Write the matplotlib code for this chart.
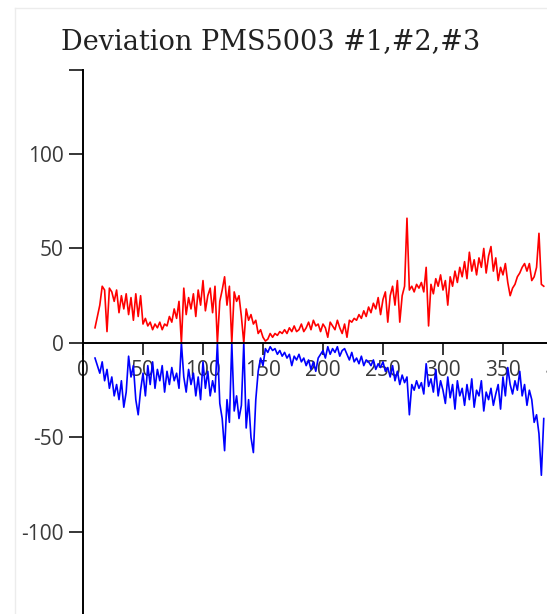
import numpy as np
import matplotlib.pyplot as plt
from matplotlib.lines import Line2D

# sample index of the first reading, readings every 2 steps
x_start = 10
x_step = 2

# deviation of sensor #1 vs #2 (red) and #1 vs #3 (blue)
red = [8, 14, 20, 30, 28,
       6, 29, 27, 22, 28,
       16, 25, 18, 26, 15,
       24, 12, 26, 14, 25,
       10, 13, 9, 11, 7,
       10, 8, 11, 7, 10,
       9, 14, 11, 18, 13,
       22, 0, 29, 15, 24,
       18, 26, 14, 28, 20,
       33, 17, 25, 29, 16,
       30, 0, 22, 28, 35,
       20, 30, 0, 27, 22,
       25, 14, 0, 18, 12,
       15, 10, 12, 5, 7,
       3, 1, 2, 5, 3,
       5, 4, 6, 5, 7,
       5, 8, 6, 9, 6,
       7, 10, 6, 8, 11,
       7, 12, 9, 10, 6,
       10, 8, 3, 11, 9,
       7, 12, 8, 5, 10,
       3, 12, 11, 13, 12,
       15, 13, 17, 14, 19,
       16, 21, 18, 24, 15,
       23, 27, 11, 25, 30,
       20, 33, 11, 25, 30,
       66, 28, 30, 27, 31,
       29, 32, 27, 40, 9,
       31, 26, 34, 30, 36,
       28, 33, 20, 35, 30,
       38, 32, 40, 35, 43,
       34, 48, 38, 44, 36,
       45, 40, 50, 37, 46,
       51, 38, 45, 33, 40,
       36, 42, 32, 25, 29,
       31, 35, 37, 40, 42,
       38, 42, 33, 35, 40,
       58, 31, 30]

blue = [-8, -12, -16, -10, -20,
        -14, -24, -18, -28, -22,
        -30, -20, -34, -26, -7,
        -18, -12, -30, -38, -25,
        -16, -28, -12, -22, -10,
        -24, -14, -20, -12, -26,
        -15, -22, -13, -20, -16,
        -24, 0, -18, -26, -14,
        -22, -16, -28, -18, -30,
        -10, -24, -15, -28, -20,
        -26, 0, -32, -40, -57,
        -30, -42, 0, -36, -28,
        -40, -33, 0, -45, -30,
        -50, -58, -30, -15, -8,
        -12, -3, -5, -2, -4,
        -3, -6, -4, -7, -5,
        -8, -6, -12, -7, -9,
        -6, -10, -8, -12, -9,
        -14, -10, -15, -8, -6,
        -4, -8, -2, -6, -3,
        -5, -2, -7, -4, -3,
        -6, -9, -5, -10, -8,
        -11, -7, -12, -9, -10,
        -12, -9, -14, -11, -13,
        -10, -15, -13, -18, -12,
        -20, -15, -22, -17, -21,
        -18, -38, -22, -25, -20,
        -24, -21, -27, -11, -23,
        -19, -26, -14, -28, -20,
        -25, -32, -18, -29, -22,
        -35, -20, -28, -24, -33,
        -22, -30, -19, -34, -25,
        -28, -20, -36, -26, -30,
        -24, -33, -27, -22, -35,
        -18, -28, -13, -22, -27,
        -20, -25, -15, -28, -22,
        -33, -25, -30, -42, -38,
        -48, -70, -40][:len(red)]

xs = x_start + x_step * np.arange(len(red))

x_ticks = [0, 50, 100, 150, 200, 250, 300, 350]
x_cut_tick = 400          # only its first digit shows at the right edge
y_ticks = [-100, -50, 0, 50, 100]
title = "Deviation PMS5003 #1,#2,#3"

W, H = 547, 614
fig = plt.figure(figsize=(W / 100, H / 100), dpi=100)

# faint card border of the page
fig.add_artist(Line2D([15 / W, 1], [1 - 8 / H, 1 - 8 / H], color="#ececec", lw=1))
fig.add_artist(Line2D([15 / W, 15 / W], [0, 1 - 8 / H], color="#ececec", lw=1))

ax = fig.add_axes([83 / W, 0, 1 - 83 / W, 1 - 70 / H])
ax.plot(xs, red, color="#ff0000", lw=1.2)
ax.plot(xs, blue, color="#0000ff", lw=1.2)

ax.spines[["top", "right"]].set_visible(False)
ax.spines["bottom"].set_position(("data", 0))
for s in ["left", "bottom"]:
    ax.spines[s].set_linewidth(1.4)

ax.set_xticks(x_ticks)
ax.set_xticklabels([str(t) for t in x_ticks])
ax.set_yticks(y_ticks + [144.4])
ax.set_yticklabels([str(t) for t in y_ticks] + [""])
ax.set_xlim(0, 386.7)
ax.set_ylim(-143.4, 144.4)

ax.tick_params(axis="y", direction="out", length=10, width=1.1, pad=4,
               labelsize=15, labelcolor="#3a3a3a")
ax.tick_params(axis="x", direction="out", length=8.5, width=1.1, pad=4,
               labelsize=15, labelcolor="#3a3a3a")
for lab in ax.get_xticklabels() + ax.get_yticklabels():
    lab.set_family("Open Sans")

ax.annotate(str(x_cut_tick), xy=(x_cut_tick, 0), xytext=(0, -12.5),
            textcoords="offset points", ha="center", va="top",
            fontsize=15, family="Open Sans", color="#3a3a3a",
            annotation_clip=False)

fig.text(271 / W, 1 - 42 / H, title, ha="center", va="center",
         fontsize=19.5, family="DejaVu Serif", color="#222222")

fig.savefig("out.png", dpi=100)
